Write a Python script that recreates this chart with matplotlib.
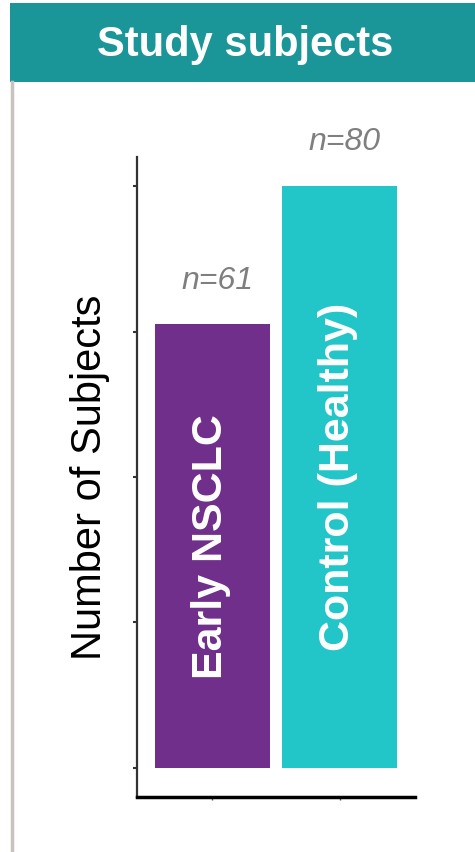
import matplotlib.pyplot as plt
from matplotlib.patches import Rectangle
from matplotlib.lines import Line2D

plt.rcParams['font.family'] = ['Liberation Sans', 'DejaVu Sans']

groups = ['Early NSCLC', 'Control (Healthy)']
counts = [61, 80]
bar_colors = ['#6f2f8a', '#22c5c8']
yticks = [0, 20, 40, 60, 80]

fig = plt.figure(figsize=(4.75, 8.52), dpi=100)
fig.patch.set_facecolor('white')

# header band and left rule
fig.patches.append(Rectangle((10 / 475, 1 - 82 / 852), 1 - 10 / 475, 79 / 852,
                             transform=fig.transFigure, facecolor='#1a9598',
                             edgecolor='none', zorder=0))
fig.lines.append(Line2D([12 / 475, 12 / 475], [0, 1 - 82 / 852],
                        transform=fig.transFigure, color='#c9c3bd', lw=2.5))
fig.text(245 / 475, 1 - 45 / 852, 'Study subjects', color='white',
         fontsize=30, fontweight='bold', ha='center', va='center')

ax = fig.add_axes([137 / 475, 55 / 852, 278 / 475, 640 / 852])
x = list(range(len(groups)))
ax.bar(x, counts, width=0.906, color=bar_colors)

for xi, name, c in zip(x, groups, counts):
    ax.text(xi - 0.01, c / 2, name, rotation=90, color='white', fontsize=31,
            fontweight='bold', ha='center', va='center')
    ax.text(xi + 0.04, c + 6, f'n={c}', color='#7f7f7f', fontsize=23,
            fontstyle='italic', ha='center', va='center', clip_on=False)

ax.set_xlim(-0.594, 1.594)
ax.set_ylim(-4, 84)
ax.set_yticks(yticks)
ax.set_yticklabels([])
ax.set_xticks(x)
ax.set_xticklabels([])
ax.tick_params(axis='y', direction='out', length=3, width=1.5, color='#333333')
ax.tick_params(axis='x', direction='out', length=2, width=1, color='#555555')

for s in ['top', 'right']:
    ax.spines[s].set_visible(False)
ax.spines['left'].set_color('#333333')
ax.spines['left'].set_linewidth(1.6)
ax.spines['bottom'].set_color('black')
ax.spines['bottom'].set_linewidth(2.5)

ax.set_ylabel('Number of Subjects', fontsize=30, color='black', labelpad=13)

fig.savefig('out.png', dpi=100)
